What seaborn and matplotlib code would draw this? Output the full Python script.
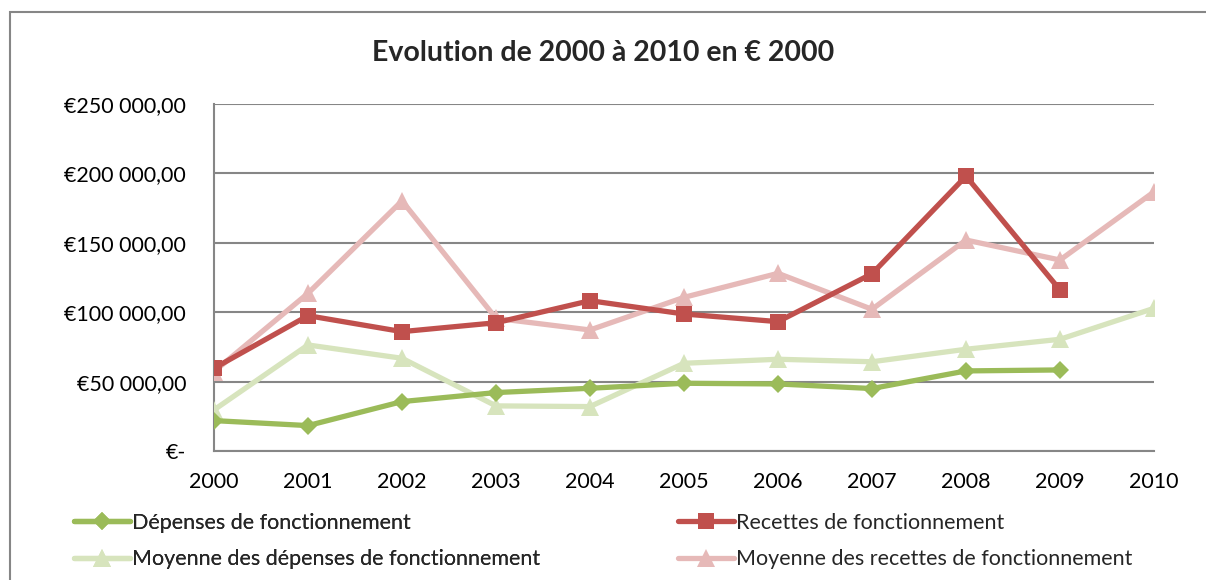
import numpy as np
import pandas as pd
import matplotlib
matplotlib.use("Agg")
import matplotlib.pyplot as plt
from matplotlib.patches import Rectangle
from matplotlib.lines import Line2D
import seaborn as sns

years = [2000, 2001, 2002, 2003, 2004, 2005, 2006, 2007, 2008, 2009, 2010]
depenses = [21900, 18300, 35600, 42100, 45200, 48800, 48300, 45000, 57700, 58400, np.nan]
recettes = [59600, 97500, 86000, 92400, 108300, 98700, 93200, 127700, 198000, 116000, np.nan]
moy_depenses = [29600, 76400, 66800, 32500, 32000, 63200, 66100, 64300, 73300, 80500, 102800]
moy_recettes = [57200, 113600, 180200, 95600, 87200, 110700, 128000, 102100, 152000, 137600, 186700]

series_names = ["Dépenses de fonctionnement", "Recettes de fonctionnement",
                "Moyenne des dépenses de fonctionnement", "Moyenne des recettes de fonctionnement"]
yticks = [0, 50000, 100000, 150000, 200000, 250000]
ytick_labels = ["€-", "€50 000,00", "€100 000,00", "€150 000,00", "€200 000,00", "€250 000,00"]
title = "Evolution de 2000 à 2010 en € 2000"

colors = {series_names[0]: "#9BBB59", series_names[1]: "#C0504D",
          series_names[2]: "#D7E4BD", series_names[3]: "#E6B9B8"}
markers = {series_names[0]: "D", series_names[1]: "s",
           series_names[2]: "^", series_names[3]: "^"}
msizes = {series_names[0]: 9.5, series_names[1]: 11.5, series_names[2]: 13, series_names[3]: 13}

df = pd.DataFrame({"year": years * 4,
                   "value": depenses + recettes + moy_depenses + moy_recettes,
                   "serie": sum([[n] * len(years) for n in series_names], [])})

sns.set_style("white")
plt.rcParams["font.family"] = ["Lato", "DejaVu Sans"]

FS = 15.5
fig = plt.figure(figsize=(12.06, 5.80), dpi=100)
fig.patches.append(Rectangle((10 / 1206, -0.1), 1.2, 1 - 12 / 580 + 0.1, transform=fig.transFigure,
                             fill=False, edgecolor="#868686", linewidth=1.5))
ax = fig.add_axes([214 / 1206, 1 - 451 / 580, (1154 - 214) / 1206, (451 - 104) / 580])

draw_order = [series_names[3], series_names[2], series_names[1], series_names[0]]
for name in draw_order:
    sub = df[df["serie"] == name].dropna()
    sns.lineplot(data=sub, x="year", y="value", ax=ax, color=colors[name],
                 marker=markers[name], markersize=msizes[name], markeredgewidth=0,
                 linewidth=3.8, legend=False, zorder=3)

ax.set_xlim(2000, 2010)
ax.set_ylim(0, 250000)
ax.set_xticks(years)
ax.set_xticklabels([str(y) for y in years], fontsize=FS)
ax.set_yticks(yticks)
ax.set_yticklabels(ytick_labels, fontsize=FS)
ax.set_xlabel("")
ax.set_ylabel("")
ax.grid(axis="y", color="#868686", linewidth=1.5)
ax.set_axisbelow(True)
for s in ["top", "right"]:
    ax.spines[s].set_visible(False)
for s in ["left", "bottom"]:
    ax.spines[s].set_color("#868686")
    ax.spines[s].set_linewidth(1.5)
ax.tick_params(axis="both", direction="out", length=7, width=1.5, color="#868686",
               colors="black")
ax.tick_params(axis="x", pad=8)
ax.tick_params(axis="y", pad=13)

fig.text(0.5, 1 - 53 / 580, title, ha="center", va="center", fontsize=20.5, fontweight="bold")

handles = [Line2D([], [], color=colors[n], marker=markers[n], markersize=msizes[n],
                  markeredgewidth=0, linewidth=3.8) for n in series_names]
leg_kw = dict(loc="center left", ncol=1, frameon=False, fontsize=FS, handlelength=2.6,
              handletextpad=0.1, labelspacing=0.75, borderaxespad=0, borderpad=0)
leg1 = fig.legend([handles[0], handles[2]], [series_names[0], series_names[2]],
                  bbox_to_anchor=(74 / 1206, 1 - 541 / 580), **leg_kw)
fig.add_artist(leg1)
fig.legend([handles[1], handles[3]], [series_names[1], series_names[3]],
           bbox_to_anchor=(678 / 1206, 1 - 541 / 580), **leg_kw)

fig.savefig("out.png", dpi=100)
